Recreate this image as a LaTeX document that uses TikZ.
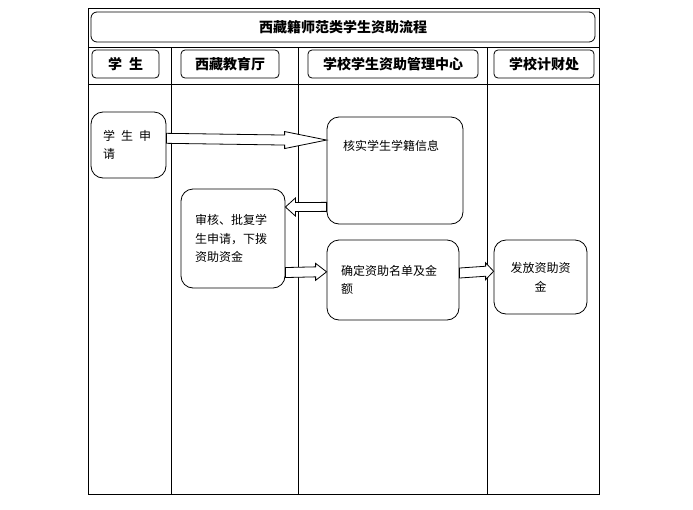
\documentclass[tikz,border=0pt]{standalone}
\usepackage{fontspec}
\setmainfont{Noto Sans CJK SC}
\usetikzlibrary{calc}
\newcommand{\blkarr}[5]{\draw[blk] ($#1+(0,#4)$) -- ($#2+(#3,#4)$) -- ($#2+(#3,#5)$) -- #2 -- ($#2+(#3,-#5)$) -- ($#2+(#3,-#4)$) -- ($#1+(0,-#4)$) -- cycle;}
\tikzset{
  frame/.style={line width=0.9pt, black},
  box/.style={draw, rounded corners=12pt, line width=0.8pt, inner sep=0pt, font=\fontsize{12}{18.5}\selectfont},
  hdr/.style={draw, rounded corners=4pt, line width=0.8pt, inner sep=0pt, minimum height=28pt, font=\bfseries\fontsize{14}{16}\selectfont},
  txt/.style={inner sep=0pt, font=\fontsize{12}{18.5}\selectfont},
  blk/.style={draw, line width=0.8pt, fill=white, line join=miter}
}
\begin{document}
\begin{tikzpicture}[x=1pt,y=-1pt]
\useasboundingbox (0,0) rectangle (693,509);
% frame
\draw[frame] (88,8) rectangle (599,494);
\draw[frame] (88,47) -- (599,47);
\draw[frame] (88,84) -- (599,84);
\draw[frame] (171,47) -- (171,494);
\draw[frame] (298,47) -- (298,494);
\draw[frame] (487,47) -- (487,494);
% title and headers
\node[hdr, rounded corners=6pt, minimum width=504pt, minimum height=30pt] (title) at (343,27) {西藏籍师范类学生资助流程};
\node[hdr, minimum width=67pt] (h1) at (125.5,64) {学\hspace{0.5em}生};
\node[hdr, minimum width=98pt] (h2) at (230,64) {西藏教育厅};
\node[hdr, minimum width=170pt] (h3) at (393,64) {学校学生资助管理中心};
\node[hdr, minimum width=100pt] (h4) at (544,64) {学校计财处};
% process boxes
\node[box, minimum height=66pt, text width=51pt, inner xsep=12pt, align=left] (stu) at (128.5,145) {学\hspace{0.5em}生\hspace{0.5em}申\\请};
\node[box, minimum height=99pt, text width=76pt, inner xsep=14pt, align=left] (shen) at (233,238.5) {审核、批复学\\生申请，下拨\\资助资金};
\node[box, minimum width=136pt, minimum height=107pt] (kern) at (395,170.5) {};
\node[txt, anchor=west] (kernt) at (343,146) {核实学生学籍信息};
\node[box, minimum height=80pt, text width=104pt, inner xsep=14pt, align=left] (qd) at (393,280) {确定资助名单及金\\额};
\node[box, minimum height=74pt, text width=81pt, inner xsep=6pt, align=center] (ff) at (540.5,277) {发放资助资\\金};
% block arrows
\blkarr{(stu.10)}{(kern.156.5)}{-42}{5}{8.5}
\blkarr{(kern.208.6)}{(shen.31)}{10}{4.5}{9}
\blkarr{(shen.327.2)}{(qd.173.1)}{-11}{5}{8.5}
\blkarr{(qd.6.9)}{(ff.173.9)}{-8}{5}{8.5}
\end{tikzpicture}
\end{document}
